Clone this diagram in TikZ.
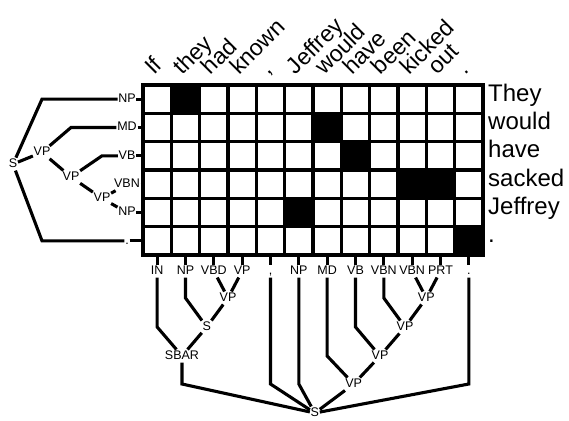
\documentclass[tikz,border=0pt]{standalone}
\usepackage{fontspec}
\setmainfont{Liberation Sans}

\tikzset{
  tag/.style={font=\fontsize{12.5}{13}\selectfont, inner sep=0.6pt,
    text height=9pt, text depth=2.4pt},
  branch/.style={line width=3.1pt},
  gridline/.style={line width=3.2pt, line cap=rect},
  word/.style={font=\fontsize{23}{26}\selectfont, rotate=45,
    anchor=base west, inner sep=0pt},
  gloss/.style={font=\fontsize{24}{27}\selectfont, anchor=base west,
    inner sep=0pt},
}

\begin{document}
\begin{tikzpicture}[x=1pt, y=-1pt]
  \useasboundingbox (0,0) rectangle (569,420);
  \def\cw{28.333}

  % filled cells, then the grid
  \foreach \c/\r in {1/0, 6/1, 7/2, 9/3, 10/3, 5/4, 11/5}
    \fill (143+\c*\cw, 85+\r*\cw) rectangle ++(\cw,\cw);
  \foreach \i in {0,...,12}
    \draw[gridline] (143+\i*\cw, 85) -- (143+\i*\cw, 255);
  \foreach \j in {0,...,6}
    \draw[gridline] (143, 85+\j*\cw) -- (483, 85+\j*\cw);

  % sentence along the top
  \foreach \w/\dx [count=\i from 0] in {If/-3, they/-3, had/-3,
      known/-3, {,}/-2, Jeffrey/-3, would/-3, have/-3, been/-3,
      kicked/-3, out/-3, ./-3}
    \node[word] (w\i) at ({143+\cw*(\i+0.5)+\dx}, 76) {\w};

  % sentence down the right
  \foreach \g [count=\j from 0] in {They, would, have, sacked, Jeffrey, .}
    \node[gloss] (g\j) at (488, {85+\cw*(\j+0.5)+2}) {\g};

  % left tree
  \foreach \t [count=\j from 0] in {NP, MD, VB, VBN, NP, .} {
    \coordinate (e\j) at (143, {85+\cw*(\j+0.5)});
    \node[tag] (r\j) at (127, {85+\cw*(\j+0.5)}) {\t};
    \draw[branch] (r\j) -- (e\j);
  }
  \node[tag] (lvp3) at (102, 198.4) {VP};
  \node[tag] (lvp2) at (71, 177) {VP};
  \node[tag] (lvp1) at (42, 152.3) {VP};
  \node[tag] (ls) at (13, 164.1) {S};
  \draw[branch] (r0) -- (r0 -| lvp1) -- (ls);
  \draw[branch] (r5) -- (r5 -| lvp1) -- (ls);
  \draw[branch] (lvp1) -- (ls);
  \draw[branch] (r1) -- (r1 -| lvp2) -- (lvp1);
  \draw[branch] (lvp2) -- (lvp1);
  \draw[branch] (r2) -- (r2 -| lvp3) -- (lvp2);
  \draw[branch] (lvp3) -- (lvp2);
  \draw[branch] (r3) -- (lvp3);
  \draw[branch] (r4) -- (lvp3);

  % bottom tree
  \foreach \t [count=\i from 0] in {IN, NP, VBD, VP, {,}, NP, MD, VB,
      VBN, VBN, PRT, .} {
    \coordinate (b\i) at ({143+\cw*(\i+0.5)}, 255);
    \node[tag] (t\i) at ({143+\cw*(\i+0.5)}, 271) {\t};
    \draw[branch] (b\i) -- (t\i);
  }
  \node[tag] (bvp0) at (228, 298) {VP};
  \node[tag] (bs1) at (206.7, 327) {S};
  \node[tag] (bsbar) at (182, 356) {SBAR};
  \node[tag] (bvp4) at (426.3, 298) {VP};
  \node[tag] (bvp3) at (405, 327) {VP};
  \node[tag] (bvp2) at (380, 356) {VP};
  \node[tag] (bvp1) at (353.7, 384) {VP};
  \node[tag] (root) at (314.8, 413) {S};

  \draw[branch] (t2) -- (bvp0);
  \draw[branch] (t3) -- (bvp0);
  \draw[branch] (t1) -- (t1 |- bvp0) -- (bs1);
  \draw[branch] (bvp0) -- (bs1);
  \draw[branch] (t0) -- (t0 |- bs1) -- (bsbar);
  \draw[branch] (bs1) -- (bsbar);
  \draw[branch] (bsbar) -- (bsbar |- bvp1) -- (root);
  \draw[branch] (t4) -- (t4 |- bvp1) -- (root);
  \draw[branch] (t5) -- (t5 |- bvp1) -- (root);
  \draw[branch] (bvp1) -- (root);
  \draw[branch] (t11) -- (t11 |- bvp1) -- (root);
  \draw[branch] (t9) -- (bvp4);
  \draw[branch] (t10) -- (bvp4);
  \draw[branch] (t8) -- (t8 |- bvp4) -- (bvp3);
  \draw[branch] (bvp4) -- (bvp3);
  \draw[branch] (t7) -- (t7 |- bvp3) -- (bvp2);
  \draw[branch] (bvp3) -- (bvp2);
  \draw[branch] (t6) -- (t6 |- bvp2) -- (bvp1);
  \draw[branch] (bvp2) -- (bvp1);
\end{tikzpicture}
\end{document}
